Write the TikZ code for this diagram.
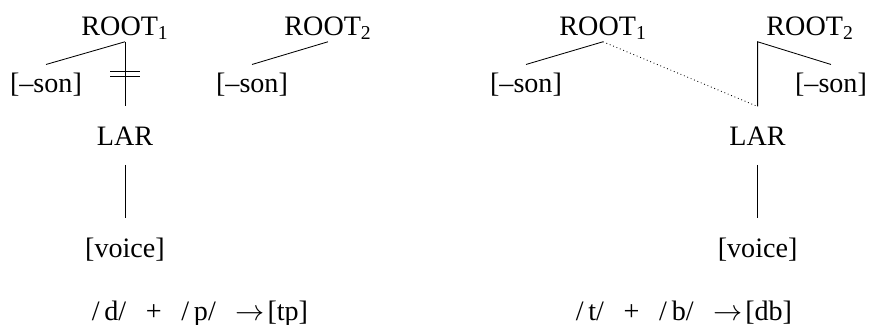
\documentclass[tikz,border=0pt]{standalone}
\usepackage{fontspec}
\setmainfont{Liberation Serif}
\usetikzlibrary{positioning,calc}

\begin{document}
\begin{tikzpicture}[
  every node/.style={font=\fontsize{20}{24}\selectfont},
  rt/.style={anchor=base, inner xsep=1.5pt, inner ysep=1.5pt},
  ft/.style={anchor=base, inner xsep=2pt, inner ysep=5.5pt},
  seg/.style={anchor=base, inner xsep=2pt, inner ysep=14pt},
  ln/.style={line width=0.6pt},
]
\useasboundingbox (0,0) rectangle (21.75,-8.1);
% left: /d/ + /p/
\node[rt] (ra1) at (3.125,-0.875) {ROOT\textsubscript{1}};
\node[rt] (ra2) at (8.2,-0.875) {ROOT\textsubscript{2}};
\node[ft] (sa1) at (1.15,-2.3) {[--son]};
\node[ft] (sa2) at (6.3,-2.3) {[--son]};
\node[seg] (lara) at (3.125,-3.625) {LAR};
\node[seg] (voia) at (3.125,-6.425) {[voice]};
\node[anchor=base] (fa) at (5.0,-8.0) {/\,d/\hspace{0.7em}+\hspace{0.7em}/\,p/\hspace{0.7em}$\rightarrow$\hspace{0.1em}[tp]};
\draw[ln] (ra1.south) -- (sa1.north);
\draw[ln] (ra1.south) -- coordinate[midway] (cut) (lara.north);
\draw[ln] ($(cut)+(-0.375,0.0625)$) -- ++(0.75,0) ($(cut)+(-0.375,-0.0625)$) -- ++(0.75,0);
\draw[ln] (lara.south) -- (voia.north);
\draw[ln] (ra2.south) -- (sa2.north);
% right: /t/ + /b/
\node[rt] (rb1) at (15.075,-0.875) {ROOT\textsubscript{1}};
\node[rt] (rb2) at (20.25,-0.875) {ROOT\textsubscript{2}};
\node[ft] (sb1) at (13.15,-2.3) {[--son]};
\node[ft] (sb2) at (20.775,-2.3) {[--son]};
\node[seg] (larb) at (18.94,-3.625) {LAR};
\node[seg] (voib) at (18.94,-6.425) {[voice]};
\node[anchor=base] (fb) at (17.1,-8.0) {/\,t/\hspace{0.7em}+\hspace{0.7em}/\,b/\hspace{0.7em}$\rightarrow$\hspace{0.1em}[db]};
\draw[ln] (rb1.south) -- (sb1.north);
\draw[ln, dotted] (rb1.south) -- (larb.north);
\draw[ln] (larb.north) -- (larb.north |- rb2.south) -- (sb2.north);
\draw[ln] (larb.south) -- (voib.north);
\end{tikzpicture}
\end{document}
